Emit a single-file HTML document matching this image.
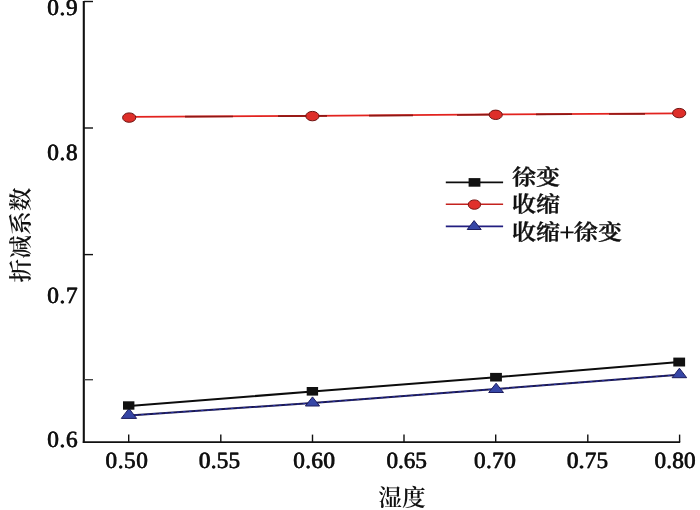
<!DOCTYPE html>
<html lang="zh">
<head>
<meta charset="utf-8">
<title>折减系数 - 湿度</title>
<style>
  html, body { margin: 0; padding: 0; background: #fff; }
  body { width: 700px; height: 510px; overflow: hidden; }
  svg { display: block; }
  .num { font-family: "Liberation Serif", "Noto Serif CJK SC", serif; font-weight: 400; font-size: 23.2px; letter-spacing: 1px; text-rendering: geometricPrecision; fill: #111; stroke: #111; stroke-width: 0.25px; stroke-linejoin: round; }
  .cjk { font-family: "Liberation Serif", "Noto Serif CJK SC", serif; font-weight: 600; font-size: 23.7px; fill: #111; text-rendering: geometricPrecision; }
  .leg { font-family: "Liberation Serif", "Noto Serif CJK SC", serif; font-weight: 600; font-size: 23px; fill: #111; stroke: #111; stroke-width: 0.4px; text-rendering: geometricPrecision; }
  .plus { font-weight: 700; font-size: 27px; stroke: none; }
</style>
</head>
<body>
<svg width="700" height="510" viewBox="0 0 700 510">
  <rect x="0" y="0" width="700" height="510" fill="#ffffff"/>

  <!-- axes -->
  <g stroke="#111" fill="none" stroke-linecap="butt">
    <line x1="83.8" y1="1" x2="83.8" y2="443" stroke-width="2.1"/>
    <line x1="82.8" y1="442.1" x2="680.2" y2="442.1" stroke-width="1.9"/>
    <!-- y ticks -->
    <g stroke-width="1.4">
      <line x1="84" y1="1.5" x2="93" y2="1.5"/>
      <line x1="84" y1="128" x2="93" y2="128"/>
      <line x1="84" y1="254.6" x2="93" y2="254.6"/>
      <line x1="84" y1="379.7" x2="93" y2="379.7" stroke="#444"/>
      <!-- x ticks -->
      <line x1="128.7" y1="434.6" x2="128.7" y2="442"/>
      <line x1="220.8" y1="434.6" x2="220.8" y2="442"/>
      <line x1="312.5" y1="434.6" x2="312.5" y2="442"/>
      <line x1="404" y1="434.6" x2="404" y2="442"/>
      <line x1="495.7" y1="434.6" x2="495.7" y2="442"/>
      <line x1="587.8" y1="434.6" x2="587.8" y2="442"/>
      <line x1="679.6" y1="434.6" x2="679.6" y2="442"/>
    </g>
  </g>

  <!-- y tick labels -->
  <g id="ynums" class="num" text-anchor="end" style="letter-spacing:0.7px">
    <text x="78" y="15.1">0.9</text>
    <text x="78" y="159.9">0.8</text>
    <text x="78" y="303.2">0.7</text>
    <text x="78" y="447.2">0.6</text>
  </g>

  <use href="#ynums" x="0.6"/>

  <!-- x tick labels -->
  <g id="xnums" class="num" text-anchor="middle">
    <text x="126.65" y="468.1" style="letter-spacing:0.57px">0.50</text>
    <text x="219.35" y="468.1" style="letter-spacing:0.23px">0.55</text>
    <text x="314.00" y="468.1" style="letter-spacing:0.35px">0.60</text>
    <text x="406.30" y="468.1" style="letter-spacing:-0.10px">0.65</text>
    <text x="494.75" y="468.1" style="letter-spacing:0.40px">0.70</text>
    <text x="587.30" y="468.1" style="letter-spacing:0.23px">0.75</text>
    <text x="674.85" y="468.1" style="letter-spacing:0.17px">0.80</text>
  </g>

  <use href="#xnums" x="0.6"/>

  <!-- axis titles -->
  <text class="cjk" x="402" y="505.7" text-anchor="middle">湿度</text>
  <text class="cjk" transform="translate(28.7 235) rotate(-90)" text-anchor="middle">折减系数</text>

  <!-- series: 收缩 (red) -->
  <g>
    <polyline points="129.2,116.8 312.4,115.8 495.8,114.4 679.2,113.4" fill="none" stroke="#e2231f" stroke-width="1.7"/>
    <g stroke="#8f1714" stroke-width="1.7" fill="none">
      <line x1="185" y1="116.7" x2="233" y2="116.5"/>
      <line x1="278" y1="116.2" x2="327" y2="115.9"/>
      <line x1="369" y1="115.6" x2="413" y2="115.3"/>
      <line x1="457" y1="115" x2="490" y2="114.7"/>
      <line x1="536" y1="114.4" x2="572" y2="114.2"/>
      <line x1="609" y1="114" x2="645" y2="113.8"/>
    </g>
    <g fill="#de2e29" stroke="#6e1412" stroke-width="1">
      <ellipse cx="129.2" cy="117.6" rx="6.6" ry="4.7"/>
      <ellipse cx="312.4" cy="116.1" rx="6.6" ry="4.7"/>
      <ellipse cx="495.7" cy="114.8" rx="6.6" ry="4.7"/>
      <ellipse cx="679.2" cy="113.1" rx="6.6" ry="4.7"/>
    </g>
  </g>

  <!-- series: 收缩+徐变 (blue) -->
  <g>
    <polyline points="129.2,415.5 312.4,403 495.8,389 679.2,374.7" fill="none" stroke="#1a1850" stroke-width="2"/>
    <polyline points="129.2,415.5 312.4,403 495.8,389 679.2,374.7" fill="none" stroke="#2a33b0" stroke-width="0.9" stroke-dasharray="2.5 3.5"/>
    <g fill="#3646a6" stroke="#1d1c5e" stroke-width="1" stroke-linejoin="round">
      <polygon points="129,408.4 136.6,418.4 121.3,418.4"/>
      <polygon points="312.5,396.9 319.6,406 305.4,406"/>
      <polygon points="496.1,383.2 503.5,392.5 488.7,392.5"/>
      <polygon points="679.4,368.2 686.7,377.7 672.1,377.7"/>
    </g>
  </g>

  <!-- series: 徐变 (black) -->
  <g>
    <polyline points="129.2,406 312.4,391.5 495.8,377.3 679.2,362" fill="none" stroke="#0c0c0c" stroke-width="2"/>
    <g fill="#111">
      <rect x="123" y="401.3" width="11.4" height="8.4"/>
      <rect x="306.7" y="387" width="11.4" height="8.6"/>
      <rect x="490.1" y="372.9" width="11.8" height="8.6"/>
      <rect x="673.3" y="357.6" width="11.8" height="8.9"/>
    </g>
  </g>

  <!-- legend -->
  <g>
    <line x1="445.8" y1="182.4" x2="503.1" y2="182.4" stroke="#0c0c0c" stroke-width="1.6"/>
    <rect x="468.6" y="178.1" width="11.8" height="8.6" fill="#111"/>
    <line x1="445.8" y1="204.3" x2="503.1" y2="204.3" stroke="#c4221e" stroke-width="1.6"/>
    <ellipse cx="474.4" cy="204.6" rx="6.2" ry="4.7" fill="#e0302b" stroke="#7a1614" stroke-width="1"/>
    <line x1="445.8" y1="226.3" x2="503.1" y2="226.3" stroke="#221e80" stroke-width="1.8"/>
    <polygon points="474.1,220.6 481.2,229.5 467.2,229.5" fill="#3646a6" stroke="#1d1c5e" stroke-width="1" stroke-linejoin="round"/>
    <g class="leg">
      <text transform="translate(512 185.4) scale(1.045 0.96)">徐变</text>
      <text transform="translate(512 211.6) scale(1.045 0.96)">收缩</text>
      <text transform="translate(512 239.6) scale(1.045 0.96)">收缩<tspan class="plus" dx="-0.9" dy="1.2">+</tspan><tspan dx="-1.3" dy="-1.2">徐变</tspan></text>
    </g>
  </g>
</svg>
</body>
</html>
